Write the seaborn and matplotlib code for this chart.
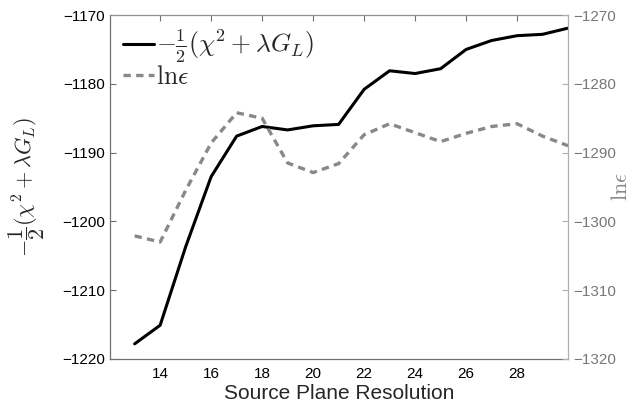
import matplotlib
matplotlib.use("Agg")
import matplotlib.pyplot as plt
import seaborn as sns
import pandas as pd

resolution = [13, 14, 15, 16, 17, 18, 19, 20, 21, 22, 23, 24, 25, 26, 27, 28, 29, 30]
neg_half_chi = [-1217.8, -1215.1, -1203.7, -1193.5, -1187.6, -1186.2, -1186.7, -1186.1,
                -1185.9, -1180.8, -1178.1, -1178.5, -1177.8, -1175.0, -1173.7, -1173.0,
                -1172.8, -1171.9]
ln_eps = [-1302.1, -1303.0, -1295.5, -1288.6, -1284.2, -1285.0, -1291.5, -1292.9,
          -1291.6, -1287.4, -1285.8, -1287.1, -1288.4, -1287.2, -1286.2, -1285.8,
          -1287.6, -1289.0]
x_ticks = [14, 16, 18, 20, 22, 24, 26, 28]
left_ticks = [-1220, -1210, -1200, -1190, -1180, -1170]
right_ticks = [-1320, -1310, -1300, -1290, -1280, -1270]

df = pd.DataFrame({"res": resolution, "chi": neg_half_chi, "lne": ln_eps})

sns.set_style("white")
plt.rcParams["font.family"] = ["Liberation Sans", "DejaVu Sans"]
plt.rcParams["mathtext.fontset"] = "cm"
plt.rcParams["axes.unicode_minus"] = True

fig = plt.figure(figsize=(6.39, 4.07), dpi=100)
ax = fig.add_axes([0.172, 0.118, 0.717, 0.845])
ax2 = ax.twinx()

sns.lineplot(data=df, x="res", y="chi", ax=ax, color="black", linewidth=2.2,
             label=r"$-\frac{1}{2}(\chi^2+\lambda G_L)$", legend=False)
sns.lineplot(data=df, x="res", y="lne", ax=ax2, color="#888888", linewidth=2.4,
             linestyle=(0, (2.2, 1.6)), label=r"$\mathrm{ln}\epsilon$", legend=False)

ax.set_xlim(12.03, 30)
ax.set_ylim(-1220, -1170)
ax2.set_ylim(-1320, -1270)
ax.set_xticks(x_ticks)
ax.set_yticks(left_ticks)
ax2.set_yticks(right_ticks)

ax.set_xlabel("Source Plane Resolution", fontsize=15, labelpad=2)
ax.set_ylabel(r"$-\dfrac{1}{2}(\chi^2+\lambda G_L)$", fontsize=16)
ax2.set_ylabel(r"$\mathrm{ln}\epsilon$", fontsize=16, color="#888888")
ax.yaxis.set_label_coords(-0.138, 0.5)
ax2.yaxis.set_label_coords(1.094, 0.5)

for a in (ax, ax2):
    for s in a.spines.values():
        s.set_linewidth(0.9)
ax.spines["left"].set_color("#707070")
ax.spines["bottom"].set_color("#707070")
ax.spines["top"].set_color("#909090")
ax2.spines["right"].set_color("#b0b0b0")
ax2.spines["left"].set_visible(False)
ax2.spines["top"].set_visible(False)
ax2.spines["bottom"].set_visible(False)
ax.spines["right"].set_visible(False)

ax.tick_params(axis="x", direction="in", length=4, width=0.8, colors="#707070",
               labelcolor="black", labelsize=11, top=True, pad=6)
ax.tick_params(axis="y", direction="in", length=4, width=0.8, colors="#707070",
               labelcolor="black", labelsize=11, left=True, right=False)
ax2.tick_params(axis="y", direction="in", length=4, width=0.8, colors="#b0b0b0",
                labelcolor="#777777", labelsize=11, right=True)

h1, l1 = ax.get_legend_handles_labels()
h2, l2 = ax2.get_legend_handles_labels()
leg = ax2.legend(h1 + h2, l1 + l2, loc="upper left", frameon=False, fontsize=18.5,
                 handlelength=1.2, handletextpad=0.1, borderaxespad=0.3,
                 labelspacing=0.0, borderpad=0.2)

fig.savefig("out.png", dpi=100)
